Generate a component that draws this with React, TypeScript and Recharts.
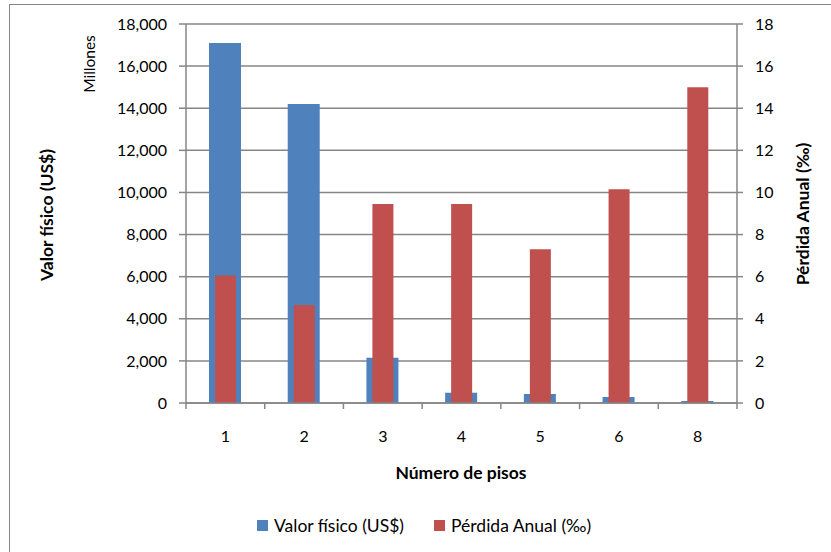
import React from 'react';
import { BarChart, Bar, XAxis, YAxis, CartesianGrid, Legend } from 'recharts';

const categories = ['1', '2', '3', '4', '5', '6', '8'];
const valorFisico = [17100, 14200, 2150, 490, 430, 290, 95];
const perdidaAnual = [6.05, 4.65, 9.45, 9.45, 7.3, 10.15, 15.0];
const leftTicks = [0, 2000, 4000, 6000, 8000, 10000, 12000, 14000, 16000, 18000];
const rightTicks = [0, 2, 4, 6, 8, 10, 12, 14, 16, 18];

const data = categories.map((c, i) => ({
  piso: c,
  valor: valorFisico[i],
  perdida: perdidaAnual[i],
}));

const FONT = "Lato, 'Open Sans', 'Noto Sans', sans-serif";
const AXIS = '#868686';
const BLUE = '#4F81BD';
const RED = '#C0504D';

const XTick = (props: any) => {
  const { x, y, payload, index } = props;
  const off = payload && payload.offset != null ? payload.offset : 39.36;
  const last = index === categories.length - 1;
  return (
    <g>
      <line x1={x - off} x2={x - off} y1={y} y2={y + 6} stroke={AXIS} strokeWidth={1.5} />
      {last && <line x1={x + off} x2={x + off} y1={y} y2={y + 6} stroke={AXIS} strokeWidth={1.5} />}
      <text x={x} y={y + 39} textAnchor="middle" fontFamily={FONT} fontSize={16} fill="#000">
        {payload.value}
      </text>
    </g>
  );
};

const LegendContent = () => (
  <div
    style={{
      display: 'flex',
      alignItems: 'center',
      fontFamily: FONT,
      fontSize: 17.5,
      color: '#000',
      paddingLeft: 257,
      height: 20,
    }}
  >
    <span style={{ width: 11, height: 11, background: BLUE, display: 'inline-block', marginRight: 6 }} />
    <span style={{ marginRight: 30 }}>Valor físico (US$)</span>
    <span style={{ width: 11, height: 11, background: RED, display: 'inline-block', marginRight: 6 }} />
    <span>Pérdida Anual (‰)</span>
  </div>
);

export default function App() {
  return (
    <div style={{ position: 'absolute', left: 0, top: 0, width: 831, height: 552, background: '#fff', overflow: 'hidden' }}>
      <div
        style={{
          position: 'absolute',
          left: 9,
          top: 4,
          width: 900,
          height: 700,
          border: `1.5px solid ${AXIS}`,
          boxSizing: 'border-box',
        }}
      />
      <BarChart
        width={831}
        height={552}
        data={data}
        margin={{ top: 24, right: 54, bottom: 99, left: 126 }}
        barGap={0}
        style={{ position: 'absolute', left: 0, top: 0 }}
      >
        <CartesianGrid xAxisId="a" yAxisId="left" vertical={false} stroke={AXIS} strokeWidth={1.5} />
        <XAxis
          xAxisId="a"
          dataKey="piso"
          height={30}
          axisLine={{ stroke: AXIS, strokeWidth: 1.5 }}
          tickLine={false}
          tickSize={0}
          tickMargin={0}
          tick={<XTick />}
          interval={0}
        />
        <XAxis xAxisId="b" dataKey="piso" hide />
        <YAxis
          yAxisId="left"
          width={60}
          domain={[0, 18000]}
          ticks={leftTicks}
          tickFormatter={(v: number) => v.toLocaleString('en-US')}
          axisLine={{ stroke: AXIS, strokeWidth: 1.5 }}
          tickLine={{ stroke: AXIS, strokeWidth: 1.5 }}
          tickSize={7}
          tickMargin={12}
          tick={{ fontFamily: FONT, fontSize: 16, fill: '#000' }}
          interval={0}
        />
        <YAxis
          yAxisId="right"
          orientation="right"
          width={40}
          domain={[0, 18]}
          ticks={rightTicks}
          axisLine={{ stroke: AXIS, strokeWidth: 1.5 }}
          tickLine={{ stroke: AXIS, strokeWidth: 1.5 }}
          tickSize={6}
          tickMargin={12}
          tick={{ fontFamily: FONT, fontSize: 16, fill: '#000', textAnchor: 'start' }}
          interval={0}
        />
        <Legend
          content={<LegendContent />}
          wrapperStyle={{ position: 'absolute', left: 0, top: 515, width: 831 }}
        />
        <Bar
          xAxisId="a"
          yAxisId="left"
          dataKey="valor"
          name="Valor físico (US$)"
          fill={BLUE}
          barSize={32}
          isAnimationActive={false}
        />
        <Bar
          xAxisId="b"
          yAxisId="right"
          dataKey="perdida"
          name="Pérdida Anual (‰)"
          fill={RED}
          barSize={21}
          isAnimationActive={false}
        />
      </BarChart>
      <svg width={831} height={552} style={{ position: 'absolute', left: 0, top: 0, pointerEvents: 'none' }}>
        <text
          x={0}
          y={0}
          transform="translate(53 215) rotate(-90)"
          textAnchor="middle"
          fontFamily={FONT}
          fontWeight="bold"
          fontSize={17.5}
          fill="#000"
        >
          Valor físico (US$)
        </text>
        <text
          x={0}
          y={0}
          transform="translate(95 64) rotate(-90)"
          textAnchor="middle"
          fontFamily={FONT}
          fontSize={15.5}
          fill="#000"
        >
          Millones
        </text>
        <text
          x={0}
          y={0}
          transform="translate(809 214) rotate(-90)"
          textAnchor="middle"
          fontFamily={FONT}
          fontWeight="bold"
          fontSize={17.5}
          fill="#000"
        >
          Pérdida Anual (‰)
        </text>
        <text x={461} y={479} textAnchor="middle" fontFamily={FONT} fontWeight="bold" fontSize={17.5} fill="#000">
          Número de pisos
        </text>
      </svg>
    </div>
  );
}
